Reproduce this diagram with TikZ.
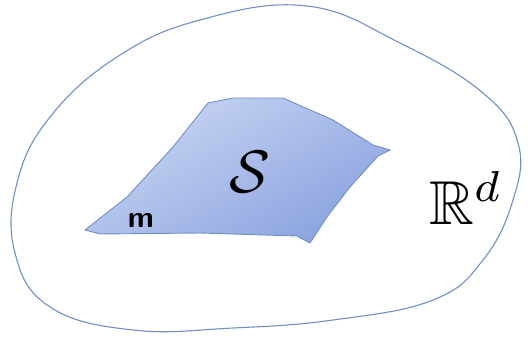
\documentclass[tikz,border=0pt]{standalone}
\usepackage{amsmath,amssymb}
\usepackage{tikz}
\definecolor{edgeBlue}{RGB}{112,144,196}
\definecolor{lightFill}{RGB}{200,213,242}
\definecolor{darkFill}{RGB}{140,163,224}

\begin{document}
\begin{tikzpicture}[x=1pt, y=-1pt, every node/.style={inner sep=0pt}]
\useasboundingbox (0,0) rectangle (532,337);
% outer region
\draw[edgeBlue, line width=1.1pt] plot[smooth cycle, tension=0.7] coordinates {
  (307,6) (400,43) (483,93) (518,143) (513,200) (483,260) (433,300)
  (333,320) (233,328) (133,330) (50,307) (15,253) (17,183) (50,117)
  (117,57) (200,20)};
% inner set
\draw[edgeBlue, line width=0.9pt, top color=lightFill, bottom color=darkFill, shading angle=30]
  (85,230) -- (127,197) -- (173,147) -- (208,103) -- (233,98) -- (283,98)
  -- (333,120) -- (373,145) -- (390,150) -- (378,156) -- (350,187)
  -- (327,217) -- (310,243) -- (297,236) -- (200,233) -- (100,234) -- cycle;
\node[scale=6] (setS) at (250,172) {$\mathcal{S}$};
\node[scale=6.2] (space) at (466,198) {$\mathbb{R}^d$};
\node[scale=3, anchor=base] (m) at (141,227) {\sffamily\bfseries m};
\end{tikzpicture}
\end{document}
